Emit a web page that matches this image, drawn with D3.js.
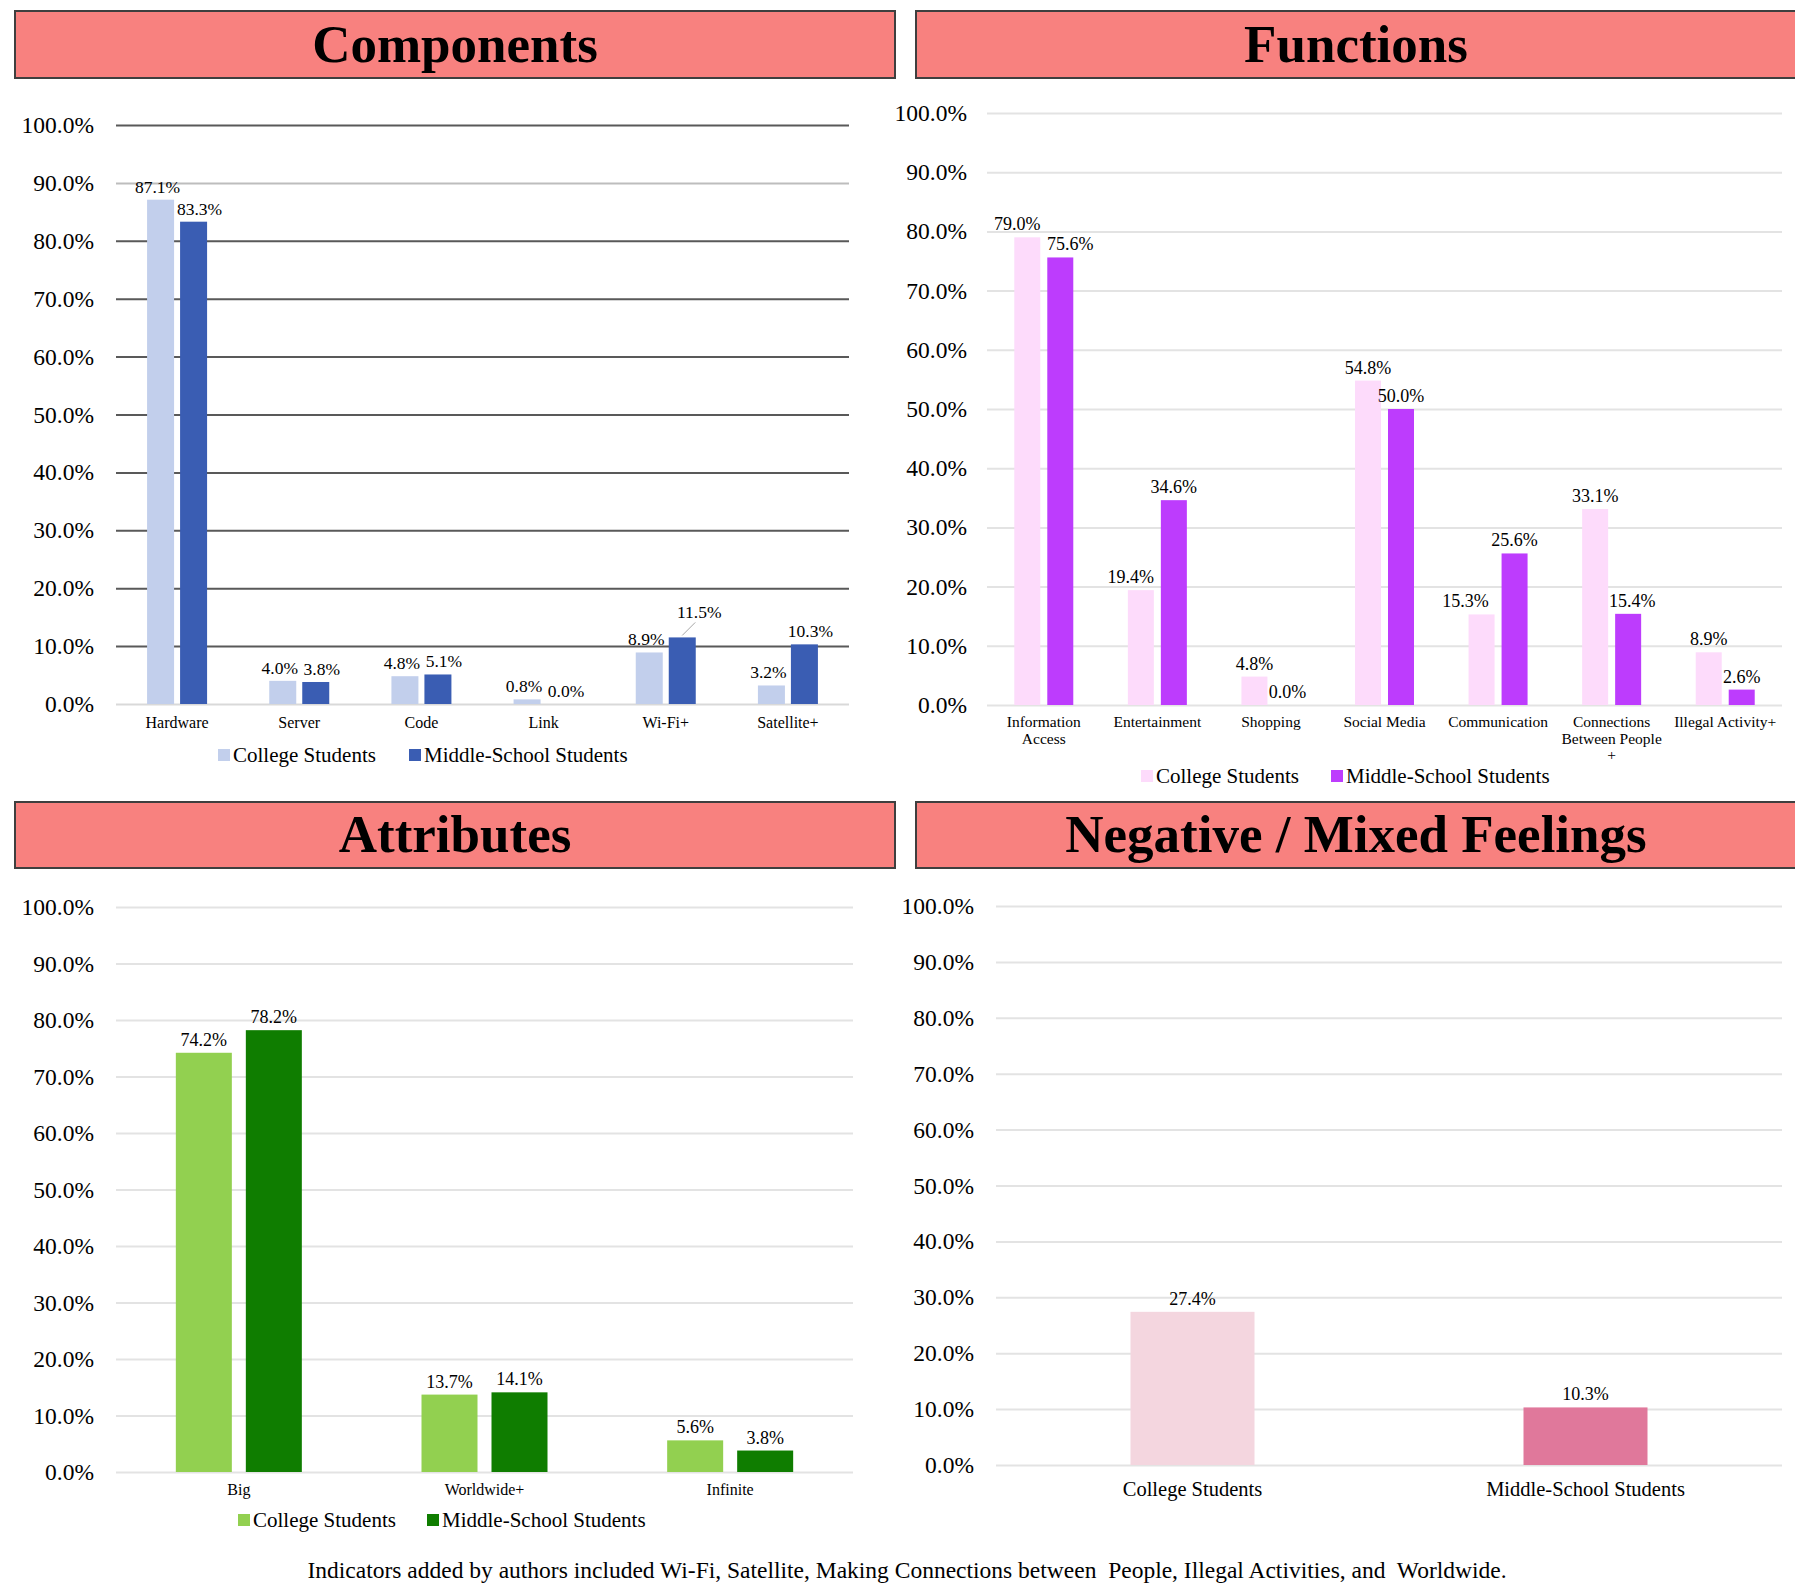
<!DOCTYPE html>
<html>
<head>
<meta charset="utf-8">
<script src="https://cdn.jsdelivr.net/npm/d3@7"></script>
<style>
body { margin: 0; background: #fff; }
svg text { font-family: Georgia, "Liberation Serif", "DejaVu Serif", serif; fill: #000; }
</style>
</head>
<body>
<svg id="chart" width="1795" height="1585"></svg>
<script>
// data
var seriesNames = ["College Students", "Middle-School Students"];

var compCategories = ["Hardware", "Server", "Code", "Link", "Wi-Fi+", "Satellite+"];
var compCollege = [87.1, 4.0, 4.8, 0.8, 8.9, 3.2];
var compMiddle = [83.3, 3.8, 5.1, 0.0, 11.5, 10.3];

var funcCategories = ["Information\nAccess", "Entertainment", "Shopping", "Social Media", "Communication", "Connections\nBetween People\n+", "Illegal Activity+"];
var funcCollege = [79.0, 19.4, 4.8, 54.8, 15.3, 33.1, 8.9];
var funcMiddle = [75.6, 34.6, 0.0, 50.0, 25.6, 15.4, 2.6];

var attrCategories = ["Big", "Worldwide+", "Infinite"];
var attrCollege = [74.2, 13.7, 5.6];
var attrMiddle = [78.2, 14.1, 3.8];

var feelCategories = ["College Students", "Middle-School Students"];
var feelValues = [27.4, 10.3];

var yTicks = [0, 10, 20, 30, 40, 50, 60, 70, 80, 90, 100];
var footnote = "Indicators added by authors included Wi-Fi, Satellite, Making Connections between  People, Illegal Activities, and  Worldwide.";

var svg = d3.select("#chart");
var pct = function (v) { return d3.format(".1f")(v) + "%"; };

function drawPanel(p) {
    var g = svg.append("g");

    // title banner
    g.append("rect")
        .attr("x", p.box[0]).attr("y", p.box[1])
        .attr("width", p.box[2]).attr("height", p.box[3])
        .attr("fill", "#f8817f")
        .attr("stroke", "#3f3f3f")
        .attr("stroke-width", 2);
    g.append("text")
        .attr("x", p.box[0] + p.box[2] / 2)
        .attr("y", p.box[1] + p.box[3] / 2 + 17)
        .attr("text-anchor", "middle")
        .attr("font-size", 53)
        .attr("font-weight", "bold")
        .text(p.title);

    var x = d3.scaleBand().domain(p.categories).range([p.left, p.right]);
    var y = d3.scaleLinear().domain([0, 100]).range([p.bottom, p.top]);

    // gridlines
    var grid = g.append("g")
        .attr("transform", "translate(" + p.left + ",0)")
        .call(d3.axisLeft(y).tickValues(yTicks).tickSize(-(p.right - p.left)).tickFormat(""));
    grid.select(".domain").remove();
    grid.selectAll(".tick line")
        .attr("stroke", p.gridColor)
        .attr("stroke-width", 2);

    // y tick labels
    var ax = g.append("g")
        .attr("transform", "translate(" + p.tickX + ",0)")
        .call(d3.axisLeft(y).tickValues(yTicks).tickSize(0).tickPadding(0).tickFormat(pct));
    ax.select(".domain").remove();
    ax.selectAll("text")
        .attr("font-size", 23.5)
        .attr("font-family", null)
        .attr("fill", "#000");

    // bars
    var n = p.series.length;
    var groupW = n * p.barW + (n - 1) * p.gap;
    var spread = p.labelSpread || [0, 0];
    var nudge = p.nudge || {};
    p.series.forEach(function (s, si) {
        var bx = function (c) { return x(c) + x.bandwidth() / 2 - groupW / 2 + si * (p.barW + p.gap); };
        var rows = p.categories.map(function (c, i) { return {c: c, v: s.values[i], i: i}; });
        g.selectAll(".bar" + si).data(rows).enter().append("rect")
            .attr("x", function (d) { return bx(d.c); })
            .attr("y", function (d) { return y(d.v); })
            .attr("width", p.barW)
            .attr("height", function (d) { return y(0) - y(d.v); })
            .attr("fill", function (d) { return s.colors ? s.colors[d.i] : s.color; });

        g.selectAll(".lab" + si).data(rows).enter().append("text")
            .attr("x", function (d) {
                var r = p.raised && p.raised[si + "-" + d.i];
                var dx = r ? r[0] : (nudge[si + "-" + d.i] !== undefined ? nudge[si + "-" + d.i] : spread[si]);
                return bx(d.c) + p.barW / 2 + dx;
            })
            .attr("y", function (d) {
                var r = p.raised && p.raised[si + "-" + d.i];
                return y(d.v) - 7 + (r ? r[1] : 0);
            })
            .attr("text-anchor", "middle")
            .attr("font-size", p.labelSize)
            .attr("fill", "#262626")
            .text(function (d) { return pct(d.v); });

        // leader lines for labels moved off their bars
        rows.forEach(function (d) {
            var r = p.raised && p.raised[si + "-" + d.i];
            if (!r) return;
            var cx = bx(d.c) + p.barW / 2;
            g.append("line")
                .attr("x1", cx).attr("y1", y(d.v) - 2)
                .attr("x2", cx + r[0] - 4).attr("y2", y(d.v) - 7 + r[1] + 4)
                .attr("stroke", "#a6a6a6").attr("stroke-width", 1);
        });
    });

    // category labels
    p.categories.forEach(function (c) {
        var t = g.append("text")
            .attr("x", x(c) + x.bandwidth() / 2)
            .attr("y", p.bottom + p.catDy)
            .attr("text-anchor", "middle")
            .attr("font-size", p.catSize);
        c.split("\n").forEach(function (line, li) {
            t.append("tspan")
                .attr("x", x(c) + x.bandwidth() / 2)
                .attr("dy", li === 0 ? 0 : p.catSize + 1)
                .text(line);
        });
    });

    // legend
    if (p.legend) {
        p.series.forEach(function (s, si) {
            var lx = p.legend.xs[si];
            g.append("rect")
                .attr("x", lx).attr("y", p.legend.y - 6)
                .attr("width", 12).attr("height", 12)
                .attr("fill", s.color);
            g.append("text")
                .attr("x", lx + 15).attr("y", p.legend.y + 7)
                .attr("font-size", 21)
                .text(s.name);
        });
    }
}

drawPanel({
    title: "Components",
    box: [15, 11, 880, 67],
    left: 116, right: 849, top: 125, bottom: 704,
    tickX: 94,
    categories: compCategories,
    series: [
        {name: seriesNames[0], values: compCollege, color: "#c2cfec"},
        {name: seriesNames[1], values: compMiddle, color: "#3a5db3"}
    ],
    barW: 27, gap: 6,
    gridColor: function (d) { return d === 0 ? "#d9d9d9" : d === 90 ? "#bdbdbd" : "#595959"; },
    labelSize: 17.5, catSize: 16, catDy: 24,
    labelSpread: [-3, 6],
    raised: {"1-4": [17, -12]},
    legend: {y: 755, xs: [218, 409]}
});

drawPanel({
    title: "Functions",
    box: [916, 11, 880, 67],
    left: 987, right: 1782, top: 113, bottom: 705,
    tickX: 967,
    categories: funcCategories,
    series: [
        {name: seriesNames[0], values: funcCollege, color: "#fddbfb"},
        {name: seriesNames[1], values: funcMiddle, color: "#bd3cfd"}
    ],
    barW: 26, gap: 7,
    gridColor: function () { return "#e3e3e3"; },
    labelSize: 18, catSize: 15.5, catDy: 22,
    nudge: {"0-0": -10, "1-0": 10, "0-1": -10, "0-4": -16, "1-5": 4},
    legend: {y: 776, xs: [1141, 1331]}
});

drawPanel({
    title: "Attributes",
    box: [15, 802, 880, 66],
    left: 116, right: 853, top: 907, bottom: 1472,
    tickX: 94,
    categories: attrCategories,
    series: [
        {name: seriesNames[0], values: attrCollege, color: "#92d050"},
        {name: seriesNames[1], values: attrMiddle, color: "#0f7d00"}
    ],
    barW: 56, gap: 14,
    gridColor: function () { return "#e3e3e3"; },
    labelSize: 18, catSize: 16, catDy: 23,
    legend: {y: 1520, xs: [238, 427]}
});

drawPanel({
    title: "Negative / Mixed Feelings",
    box: [916, 802, 880, 66],
    left: 996, right: 1782, top: 906, bottom: 1465,
    tickX: 974,
    categories: feelCategories,
    series: [
        {name: "", values: feelValues, colors: ["#f4d6df", "#e0789b"]}
    ],
    barW: 124, gap: 0,
    gridColor: function () { return "#e3e3e3"; },
    labelSize: 18, catSize: 20.5, catDy: 31
});

svg.append("text")
    .attr("x", 907).attr("y", 1578)
    .attr("text-anchor", "middle")
    .attr("font-size", 23.5)
    .attr("xml:space", "preserve")
    .style("white-space", "pre")
    .text(footnote);
</script>
</body>
</html>
